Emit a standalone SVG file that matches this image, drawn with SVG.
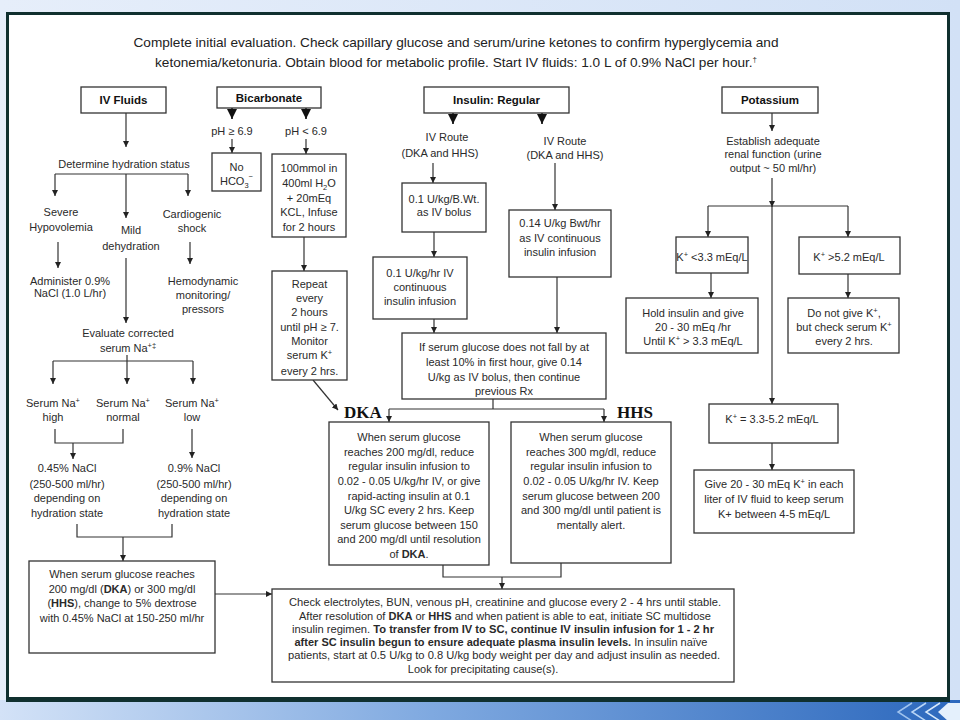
<svg xmlns="http://www.w3.org/2000/svg" width="960" height="720" viewBox="0 0 960 720">
<defs>
<linearGradient id="band" x1="0" y1="0" x2="1" y2="0">
<stop offset="0" stop-color="#d3e2f7"/>
<stop offset="0.45" stop-color="#7fa9e0"/>
<stop offset="1" stop-color="#2c68bd"/>
</linearGradient>
<linearGradient id="bg" x1="0" y1="0" x2="1" y2="0">
<stop offset="0" stop-color="#e6eefa"/>
<stop offset="1" stop-color="#d2e1f6"/>
</linearGradient>
<marker id="a" viewBox="0 0 8 8" refX="8" refY="4" markerWidth="6" markerHeight="6" orient="auto" markerUnits="userSpaceOnUse">
<path d="M0,0 L8,4 L0,8 z" fill="#222"/>
</marker>
<marker id="A" viewBox="0 0 8 8" refX="8" refY="4" markerWidth="10" markerHeight="10" orient="auto" markerUnits="userSpaceOnUse">
<path d="M0,0 L8,4 L0,8 z" fill="#111"/>
</marker>
<style>
text{font-family:"Liberation Sans",Arial,sans-serif;font-size:11px;fill:#2a2a2a;text-anchor:middle}
.b{font-weight:bold}
.hd{font-weight:bold;font-size:11.5px;fill:#111}
.ti{font-size:13px;fill:#222}
.lbl{font-family:"Liberation Serif","Times New Roman",serif;font-weight:bold;font-size:17px;fill:#111;text-anchor:start}
.box{fill:#fff;stroke:#333;stroke-width:1.3}
.ln{stroke:#333;stroke-width:1.2;fill:none}
.ar{marker-end:url(#a)}
.AR{stroke:#111;stroke-width:1.6;fill:none;marker-end:url(#A)}
.sup{font-size:7.5px}
</style>
</defs>

<g id="background">
<rect x="0" y="0" width="960" height="720" fill="url(#bg)"/>
<rect x="0" y="700" width="960" height="20" fill="url(#band)"/>
<rect x="7.5" y="13.5" width="941" height="685" fill="#fff" stroke="#10302f" stroke-width="3"/>
<line x1="6" y1="699.5" x2="950" y2="699.5" stroke="#10302f" stroke-width="5"/>
<g fill="none" stroke-width="1.5">
<polyline points="912,703 898,712 912,721" stroke="#9fc3ee"/>
<polyline points="926,703 912,712 926,721" stroke="#b9d6f6"/>
<polyline points="940,703 926,712 940,721" stroke="#d7e9fb"/>
</g>
<polygon points="960,703 948,703 938,712 948,721 960,721" fill="#e4f0fc"/>
</g>

<g id="title">
<text class="ti" x="456" y="47" textLength="645" lengthAdjust="spacingAndGlyphs">Complete initial evaluation. Check capillary glucose and serum/urine ketones to confirm hyperglycemia and</text>
<text class="ti" x="456" y="67" textLength="602" lengthAdjust="spacingAndGlyphs">ketonemia/ketonuria. Obtain blood for metabolic profile. Start IV fluids: 1.0 L of 0.9% NaCl per hour.<tspan class="sup" dy="-5">†</tspan></text>
</g>

<g id="connectors">
<!-- IV fluids column -->
<path class="ln ar" d="M126,113 V147"/>
<path class="ln" d="M55,174 H188"/>
<path class="ln ar" d="M55,174 V196"/>
<path class="ln ar" d="M188,174 V196"/>
<path class="ln ar" d="M126,174 V218"/>
<path class="ln ar" d="M58,242 V268"/>
<path class="ln ar" d="M190,242 V264"/>
<path class="ln ar" d="M126,258 V323"/>
<path class="ln" d="M53,361 H193"/>
<path class="ln ar" d="M53,361 V384"/>
<path class="ln ar" d="M193,361 V384"/>
<path class="ln ar" d="M127,355 V384"/>
<path class="ln" d="M55,429 V443 H123 V429"/>
<path class="ln ar" d="M73,443 V459"/>
<path class="ln ar" d="M192,429 V458"/>
<path class="ln" d="M77,524 V537 H172 V524"/>
<path class="ln ar" d="M123,537 V561"/>
<path class="ln ar" d="M215,594 H272"/>
<!-- Bicarbonate -->
<path class="AR" d="M232,108 V119"/>
<path class="AR" d="M306,108 V119"/>
<path class="ln ar" d="M232,139 V153"/>
<path class="ln ar" d="M306,139 V154"/>
<path class="ln ar" d="M304,237 V271"/>
<path class="ln ar" d="M313,380 L338,410"/>
<!-- Insulin -->
<path class="AR" d="M453,113 V124"/>
<path class="AR" d="M542,113 V124"/>
<path class="ln ar" d="M433,163 V183"/>
<path class="ln ar" d="M434,232 V257"/>
<path class="ln ar" d="M555,163 V210"/>
<path class="ln ar" d="M557,277 V333"/>
<path class="ln ar" d="M434,319 V333"/>
<path class="ln" d="M493,399 V409 M389,409 H604"/>
<path class="ln ar" d="M389,409 V422"/>
<path class="ln ar" d="M604,409 V422"/>
<path class="ln" d="M443,565 V577 H561 V563"/>
<path class="ln ar" d="M502,577 V589"/>
<!-- Potassium -->
<path class="ln ar" d="M772,113 V131"/>
<path class="ln ar" d="M772,178 V207"/>
<path class="ln" d="M708,206 H848"/>
<path class="ln ar" d="M708,206 V237"/>
<path class="ln ar" d="M848,206 V237"/>
<path class="ln ar" d="M772,206 V404"/>
<path class="ln ar" d="M711,273 V298"/>
<path class="ln ar" d="M848,274 V298"/>
<path class="ln ar" d="M772,443 V470"/>
</g>

<g id="iv-fluids">
<rect class="box" x="81" y="87" width="85" height="26"/>
<text class="hd" x="123.5" y="104">IV Fluids</text>
</g>
<g id="hydration">
<text x="124" y="168">Determine hydration status</text>
</g>
<g id="severe">
<text x="61" y="216">Severe</text>
<text x="61" y="231">Hypovolemia</text>
</g>
<g id="mild">
<text x="131" y="234">Mild</text>
<text x="131" y="250">dehydration</text>
</g>
<g id="cardiogenic">
<text x="192" y="218">Cardiogenic</text>
<text x="192" y="232">shock</text>
</g>
<g id="administer">
<text x="70" y="285">Administer 0.9%</text>
<text x="70" y="297">NaCl (1.0 L/hr)</text>
</g>
<g id="hemodynamic">
<text x="203" y="285">Hemodynamic</text>
<text x="203" y="299">monitoring/</text>
<text x="203" y="313">pressors</text>
</g>
<g id="evaluate">
<text x="128" y="337">Evaluate corrected</text>
<text x="128" y="352">serum Na<tspan class="sup" dy="-4">+‡</tspan></text>
</g>
<g id="na-high">
<text x="53" y="407">Serum Na<tspan class="sup" dy="-4">+</tspan></text>
<text x="53" y="421">high</text>
</g>
<g id="na-normal">
<text x="123" y="407">Serum Na<tspan class="sup" dy="-4">+</tspan></text>
<text x="123" y="421">normal</text>
</g>
<g id="na-low">
<text x="192" y="407">Serum Na<tspan class="sup" dy="-4">+</tspan></text>
<text x="192" y="421">low</text>
</g>
<g id="nacl045">
<text x="67" y="472">0.45% NaCl</text>
<text x="67" y="488">(250-500 ml/hr)</text>
<text x="67" y="502">depending on</text>
<text x="67" y="517">hydration state</text>
</g>
<g id="nacl09">
<text x="194" y="472">0.9% NaCl</text>
<text x="194" y="488">(250-500 ml/hr)</text>
<text x="194" y="502">depending on</text>
<text x="194" y="517">hydration state</text>
</g>
<g id="dextrose">
<rect class="box" x="29" y="561" width="186" height="92"/>
<text x="122" y="578">When serum glucose  reaches</text>
<text x="122" y="593">200 mg/dl (<tspan class="b">DKA</tspan>) or 300 mg/dl</text>
<text x="122" y="607">(<tspan class="b">HHS</tspan>), change to 5% dextrose</text>
<text x="122" y="622">with 0.45% NaCl at 150-250 ml/hr</text>
</g>

<g id="bicarbonate">
<rect class="box" x="217" y="87" width="104" height="21"/>
<text class="hd" x="269" y="102">Bicarbonate</text>
</g>
<g id="ph-high">
<text x="232" y="135">pH ≥ 6.9</text>
</g>
<g id="ph-low">
<text x="306" y="135">pH &lt; 6.9</text>
</g>
<g id="no-hco3">
<rect class="box" x="212" y="153" width="49" height="38"/>
<text x="236.5" y="171">No</text>
<text x="236.5" y="185">HCO<tspan class="sup" dy="3">3</tspan><tspan class="sup" dy="-9">−</tspan></text>
</g>
<g id="bicarb-dose">
<rect class="box" x="272" y="154" width="74" height="83"/>
<text x="309" y="172">100mmol in</text>
<text x="309" y="187">400ml H<tspan class="sup" dy="3">2</tspan><tspan dy="-3">O</tspan></text>
<text x="309" y="202">+ 20mEq</text>
<text x="309" y="216">KCL, Infuse</text>
<text x="309" y="231">for 2 hours</text>
</g>
<g id="repeat">
<rect class="box" x="272" y="271" width="75" height="109"/>
<text x="309.5" y="288">Repeat</text>
<text x="309.5" y="302">every</text>
<text x="309.5" y="316">2 hours</text>
<text x="309.5" y="331">until pH ≥ 7.</text>
<text x="309.5" y="345">Monitor</text>
<text x="309.5" y="359">serum K<tspan class="sup" dy="-4">+</tspan></text>
<text x="309.5" y="375">every 2 hrs.</text>
</g>

<g id="insulin">
<rect class="box" x="424" y="87" width="145" height="26"/>
<text class="hd" x="496.5" y="104">Insulin: Regular</text>
</g>
<g id="route1">
<text x="447" y="141">IV Route</text>
<text x="440" y="157">(DKA and HHS)</text>
</g>
<g id="route2">
<text x="565" y="145">IV Route</text>
<text x="565" y="159">(DKA and HHS)</text>
</g>
<g id="bolus">
<rect class="box" x="402" y="183" width="84" height="49"/>
<text x="444" y="203">0.1 U/kg/B.Wt.</text>
<text x="444" y="216">as IV bolus</text>
</g>
<g id="infusion1">
<rect class="box" x="373" y="257" width="94" height="62"/>
<text x="420" y="277">0.1 U/kg/hr IV</text>
<text x="420" y="291">continuous</text>
<text x="420" y="305">insulin infusion</text>
</g>
<g id="infusion2">
<rect class="box" x="509" y="210" width="102" height="67"/>
<text x="560" y="227">0.14 U/kg Bwt/hr</text>
<text x="560" y="242">as IV continuous</text>
<text x="560" y="256">insulin infusion</text>
</g>
<g id="nofall">
<rect class="box" x="402" y="333" width="204" height="66"/>
<text x="504" y="351">If serum glucose does not fall by at</text>
<text x="504" y="366">least 10% in first hour, give 0.14</text>
<text x="504" y="381">U/kg as IV  bolus, then continue</text>
<text x="504" y="395">previous Rx</text>
</g>
<g id="dka">
<text class="lbl" x="344" y="418">DKA</text>
<rect class="box" x="329" y="422" width="160" height="143"/>
<text x="409" y="441">When serum glucose</text>
<text x="409" y="456">reaches 200 mg/dl, reduce</text>
<text x="409" y="470">regular insulin infusion to</text>
<text x="409" y="485">0.02 - 0.05 U/kg/hr IV, or give</text>
<text x="409" y="500">rapid-acting insulin at 0.1</text>
<text x="409" y="514">U/kg SC every 2 hrs. Keep</text>
<text x="409" y="529">serum glucose between 150</text>
<text x="409" y="543">and 200 mg/dl until resolution</text>
<text x="409" y="558">of  <tspan class="b">DKA</tspan>.</text>
</g>
<g id="hhs">
<text class="lbl" x="617" y="418">HHS</text>
<rect class="box" x="511" y="422" width="160" height="141"/>
<text x="591" y="441">When serum glucose</text>
<text x="591" y="456">reaches 300 mg/dl, reduce</text>
<text x="591" y="470">regular insulin infusion to</text>
<text x="591" y="485">0.02 - 0.05 U/kg/hr IV.  Keep</text>
<text x="591" y="500">serum glucose between 200</text>
<text x="591" y="514">and 300 mg/dl until patient is</text>
<text x="591" y="529">mentally alert.</text>
</g>
<g id="check">
<rect class="box" x="272" y="589" width="462" height="93"/>
<text x="505" y="606" textLength="432" lengthAdjust="spacingAndGlyphs">Check electrolytes, BUN, venous pH, creatinine and glucose every 2 - 4 hrs until stable.</text>
<text x="505" y="620" textLength="412" lengthAdjust="spacingAndGlyphs">After resolution of <tspan class="b">DKA</tspan> or <tspan class="b">HHS</tspan> and when patient is able to eat, initiate SC multidose</text>
<text x="503" y="633" textLength="422" lengthAdjust="spacingAndGlyphs">insulin regimen. <tspan class="b">To transfer from IV to SC, continue IV insulin infusion for 1 - 2 hr</tspan></text>
<text x="501" y="646" textLength="413" lengthAdjust="spacingAndGlyphs"><tspan class="b">after SC insulin begun to ensure adequate plasma insulin levels.</tspan>  In insulin naïve</text>
<text x="504" y="659" textLength="432" lengthAdjust="spacingAndGlyphs">patients, start at 0.5 U/kg to 0.8 U/kg body weight per day and adjust insulin as needed.</text>
<text x="483" y="673">Look for precipitating cause(s).</text>
</g>

<g id="potassium">
<rect class="box" x="722" y="87" width="96" height="26"/>
<text class="hd" x="770" y="104">Potassium</text>
</g>
<g id="renal">
<text x="773" y="145">Establish adequate</text>
<text x="773" y="158">renal function (urine</text>
<text x="773" y="172">output ~ 50 ml/hr)</text>
</g>
<g id="k-low">
<rect class="box" x="676" y="237" width="72" height="36"/>
<text x="712" y="261">K<tspan class="sup" dy="-4">+</tspan><tspan dy="4"> &lt;3.3 mEq/L</tspan></text>
</g>
<g id="k-high">
<rect class="box" x="799" y="237" width="101" height="37"/>
<text x="849" y="261">K<tspan class="sup" dy="-4">+</tspan><tspan dy="4"> &gt;5.2 mEq/L</tspan></text>
</g>
<g id="hold">
<rect class="box" x="626" y="298" width="132" height="55"/>
<text x="693" y="317">Hold insulin and give</text>
<text x="693" y="331">20 - 30 mEq /hr</text>
<text x="693" y="345">Until K<tspan class="sup" dy="-4">+</tspan><tspan dy="4"> &gt; 3.3 mEq/L</tspan></text>
</g>
<g id="donot">
<rect class="box" x="788" y="298" width="111" height="55"/>
<text x="844" y="317">Do not give K<tspan class="sup" dy="-4">+</tspan><tspan dy="4">,</tspan></text>
<text x="844" y="331">but check serum K<tspan class="sup" dy="-4">+</tspan></text>
<text x="844" y="345">every 2 hrs.</text>
</g>
<g id="k-normal">
<rect class="box" x="709" y="404" width="129" height="39"/>
<text x="772" y="423">K<tspan class="sup" dy="-4">+</tspan><tspan dy="4"> = 3.3-5.2 mEq/L</tspan></text>
</g>
<g id="give">
<rect class="box" x="694" y="470" width="160" height="63"/>
<text x="774" y="488">Give 20 - 30 mEq K<tspan class="sup" dy="-4">+</tspan><tspan dy="4"> in each</tspan></text>
<text x="774" y="503">liter of IV  fluid to keep serum</text>
<text x="774" y="518">K+ between 4-5 mEq/L</text>
</g>
</svg>
